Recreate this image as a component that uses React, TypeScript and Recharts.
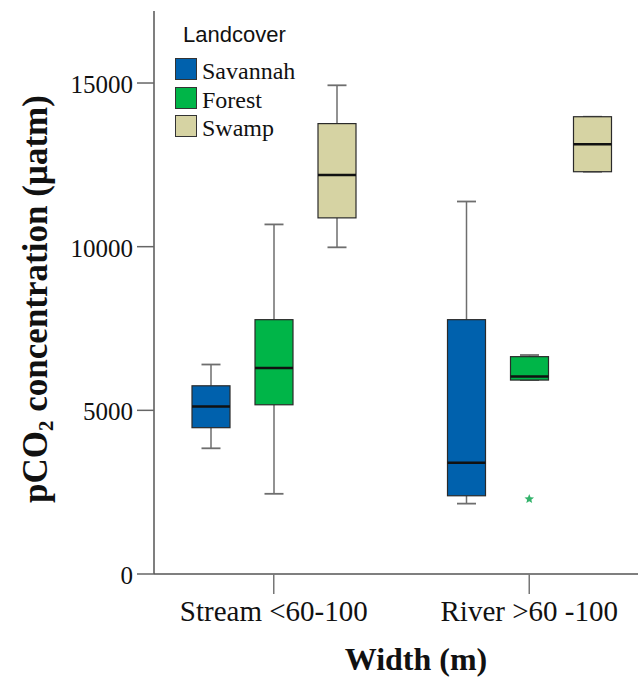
import React from 'react';
import { ComposedChart, Bar, Scatter, XAxis, YAxis, ZAxis, Legend } from 'recharts';

// ---- data ----
const categories = ['Stream <60-100', 'River >60 -100'];
// [min, q1, median, q3, max]
const savannah = [
  [3840, 4470, 5120, 5750, 6400],
  [2150, 2390, 3400, 7770, 11380],
];
const forest = [
  [2450, 5170, 6290, 7770, 10680],
  [5925, 5925, 6030, 6640, 6690],
];
const swamp = [
  [9980, 10880, 12190, 13760, 14930],
  [12290, 12290, 13130, 13970, 13970],
];
const forestOutliers: (number | null)[] = [null, 2290];
const yTicks = [0, 5000, 10000, 15000];
const yMax = 17200;
const seriesNames = ['Savannah', 'Forest', 'Swamp'];
const seriesColors = ['#0061AD', '#00B548', '#D6D3A3'];

const data = categories.map((cat, i) => ({
  cat,
  sav: savannah[i],
  forest: forest[i],
  swamp: swamp[i],
  outlier: forestOutliers[i],
}));

const SERIF = '"Liberation Serif", "Times New Roman", serif';
const SANS = '"Liberation Sans", Arial, sans-serif';

const makeBoxShape = (key: string, fill: string) => (props: any) => {
  const { x, y, width, height, payload } = props;
  const stats: number[] = payload[key];
  if (!stats) return <g />;
  const [mn, q1, md, q3, mx] = stats;
  const top = Math.min(y, y + height);
  const h = Math.abs(height);
  const span = mx - mn || 1;
  const py = (v: number) => top + ((mx - v) / span) * h;
  const cx = x + width / 2;
  const capHalf = width / 4;
  const wStroke = '#6e6e6e';
  return (
    <g>
      <line x1={cx} x2={cx} y1={py(mx)} y2={py(q3)} stroke={wStroke} strokeWidth={1.5} />
      <line x1={cx} x2={cx} y1={py(q1)} y2={py(mn)} stroke={wStroke} strokeWidth={1.5} />
      <line x1={cx - capHalf} x2={cx + capHalf} y1={py(mx)} y2={py(mx)} stroke={wStroke} strokeWidth={1.8} />
      <line x1={cx - capHalf} x2={cx + capHalf} y1={py(mn)} y2={py(mn)} stroke={wStroke} strokeWidth={1.8} />
      <rect x={x} y={py(q3)} width={width} height={py(q1) - py(q3)} fill={fill} stroke="#2a2a2a" strokeWidth={1.2} />
      <line x1={x} x2={x + width} y1={py(md)} y2={py(md)} stroke="#111" strokeWidth={2.5} />
    </g>
  );
};

const StarShape = (props: any) => {
  const { cx, cy, payload } = props;
  if (payload == null || payload.outlier == null || !isFinite(cx) || !isFinite(cy)) return <g />;
  const pts: string[] = [];
  const R = 5, r = 2.2;
  for (let k = 0; k < 10; k++) {
    const ang = -Math.PI / 2 + (k * Math.PI) / 5;
    const rad = k % 2 === 0 ? R : r;
    pts.push(`${cx + rad * Math.cos(ang)},${cy + rad * Math.sin(ang)}`);
  }
  return <polygon points={pts.join(' ')} fill="#33b36b" />;
};

const YTick = (props: any) => {
  const { x, y, payload } = props;
  return (
    <text x={x} y={y} dy={10} textAnchor="end" fontFamily={SERIF} fontSize={25} fill="#111">
      {payload.value}
    </text>
  );
};

const LegendContent = () => (
  <div style={{ position: 'relative', width: 300, height: 150 }}>
    <div
      style={{
        position: 'absolute',
        left: 183,
        top: 24,
        fontFamily: SANS,
        fontSize: 22,
        lineHeight: '22px',
        color: '#111',
        whiteSpace: 'nowrap',
      }}
    >
      Landcover
    </div>
    {seriesNames.map((name, i) => (
      <React.Fragment key={name}>
        <div
          style={{
            position: 'absolute',
            left: 175,
            top: 58 + i * 28.7,
            width: 20,
            height: 20,
            background: seriesColors[i],
            border: '1px solid #333',
          }}
        />
        <div
          style={{
            position: 'absolute',
            left: 202,
            top: 59 + i * 28.7,
            fontFamily: SERIF,
            fontSize: 24,
            lineHeight: '24px',
            color: '#111',
            whiteSpace: 'nowrap',
          }}
        >
          {name}
        </div>
      </React.Fragment>
    ))}
  </div>
);

const YLabel = () => (
  <text
    x={47}
    y={299}
    transform="rotate(-90 47 299)"
    textAnchor="middle"
    fontFamily={SERIF}
    fontWeight="bold"
    fontSize={35}
    fill="#111"
  >
    <tspan>pCO</tspan>
    <tspan fontSize={21} dy={6}>2</tspan>
    <tspan dy={-6}> concentration (µatm)</tspan>
  </text>
);

const XLabel = () => (
  <text x={416} y={670} textAnchor="middle" fontFamily={SERIF} fontWeight="bold" fontSize={32} fill="#111">
    Width (m)
  </text>
);

export default function App() {
  return (
    <div
      style={{
        position: 'absolute',
        left: 0,
        top: 0,
        width: 638,
        height: 682,
        overflow: 'hidden',
        background: '#fff',
      }}
    >
      <ComposedChart
        width={660}
        height={682}
        data={data}
        margin={{ top: 11, right: 3, bottom: 0, left: 0 }}
        barGap={25}
      >
        <XAxis
          dataKey="cat"
          height={108}
          padding={{ left: -8, right: 0 }}
          axisLine={{ stroke: '#555', strokeWidth: 1.5 }}
          tickLine={{ stroke: '#777', strokeWidth: 1.5 }}
          tickSize={20}
          tickMargin={6}
          tick={{ fontSize: 29, fontFamily: SERIF, fill: '#111' }}
          label={{ content: () => <XLabel /> }}
        />
        <XAxis
          xAxisId="top"
          orientation="top"
          dataKey="cat"
          height={0}
          tick={false}
          tickLine={false}
          axisLine={{ stroke: '#555', strokeWidth: 1.5 }}
        />
        <YAxis
          width={154}
          domain={[0, yMax]}
          ticks={yTicks}
          interval={0}
          axisLine={{ stroke: '#555', strokeWidth: 1.5 }}
          tickLine={{ stroke: '#666', strokeWidth: 1.5 }}
          tickSize={17}
          tickMargin={4}
          tick={<YTick />}
          label={{ content: () => <YLabel /> }}
        />
        <ZAxis range={[40, 40]} />
        <Bar
          dataKey={(d: any) => [d.sav[0], d.sav[4]]}
          barSize={38}
          shape={makeBoxShape('sav', seriesColors[0])}
          isAnimationActive={false}
        />
        <Bar
          dataKey={(d: any) => [d.forest[0], d.forest[4]]}
          barSize={38}
          shape={makeBoxShape('forest', seriesColors[1])}
          isAnimationActive={false}
        />
        <Bar
          dataKey={(d: any) => [d.swamp[0], d.swamp[4]]}
          barSize={38}
          shape={makeBoxShape('swamp', seriesColors[2])}
          isAnimationActive={false}
        />
        <Scatter dataKey="outlier" shape={StarShape} isAnimationActive={false} />
        <Legend
          layout="vertical"
          align="center"
          verticalAlign="middle"
          content={() => <LegendContent />}
          wrapperStyle={{ position: 'absolute', left: 0, top: 0, width: 300, height: 150 }}
        />
      </ComposedChart>
    </div>
  );
}
